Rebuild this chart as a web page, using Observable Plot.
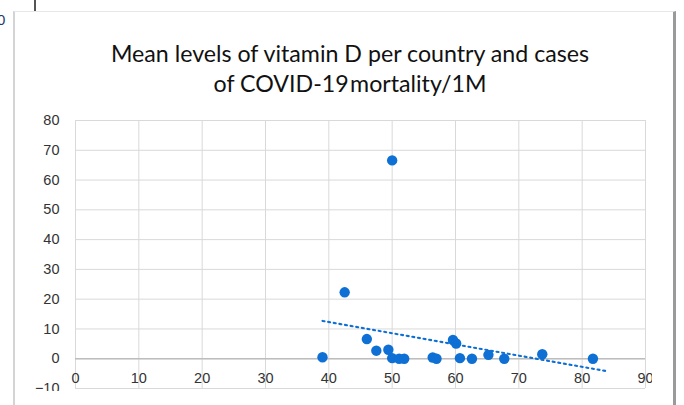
<!DOCTYPE html>
<html>
<head>
<meta charset="utf-8">
<script src="https://cdn.jsdelivr.net/npm/d3@7"></script>
<script src="https://cdn.jsdelivr.net/npm/@observablehq/plot@0.6"></script>
<style>
  html, body { margin: 0; padding: 0; background: #fff; }
  #wrap { position: relative; width: 684px; height: 405px; overflow: hidden; background: #fff; }
  #clip { position: absolute; left: 0; top: 0; width: 652px; height: 391px; overflow: hidden; }
  #clip svg { max-width: none !important; }
  #frame { position: absolute; left: 13px; top: 11px; width: 663px; height: 410px;
           border-left: 2px solid #d4d4d4; border-top: 1px solid #e8e8e8; border-right: 3px solid #9a9a9a;
           box-sizing: border-box; pointer-events: none; }
  #title { position: absolute; left: 0; width: 700px; top: 38px; text-align: center;
           font-family: Lato, "Liberation Sans", sans-serif; font-size: 23.2px; line-height: 30px; color: #111; }
  #frag0 { position: absolute; left: -3px; top: 11px; font-family: "Liberation Sans", sans-serif; font-size: 15px; color: #1f3b6f; }
  #vline { position: absolute; left: 34px; top: 0; width: 2px; height: 11px; background: #555; }
</style>
</head>
<body>
<div id="wrap">
  <div id="clip"></div>
  <div id="title">Mean levels of vitamin D per country and cases<br>of COVID-19&#8202;mortality/1M</div>
  <div id="frame"></div>
  <div id="frag0">0</div>
  <div id="vline"></div>
</div>
<script>
// Mean vitamin D level per country (x) and COVID-19 mortality per 1M (y)
const vitaminD = [39, 42.5, 46, 47.5, 49.4, 50, 50, 51.1, 51.9, 56.4, 57, 59.6, 60.1, 60.7, 62.6, 65.2, 67.7, 73.7, 81.7];
const mortality = [0.5, 22.3, 6.6, 2.7, 3.0, 0.2, 66.6, 0, 0, 0.4, 0, 6.3, 5.1, 0.2, 0, 1.3, 0, 1.5, 0];
const xTicks = [0, 10, 20, 30, 40, 50, 60, 70, 80, 90];
const yTicks = [-10, 0, 10, 20, 30, 40, 50, 60, 70, 80];
const trendForward = 2; // Excel trendline forecast forward

const data = vitaminD.map((x, i) => ({x, y: mortality[i]}));

// least squares linear trendline
const mx = d3.mean(vitaminD), my = d3.mean(mortality);
const sxy = d3.sum(data, d => (d.x - mx) * (d.y - my));
const sxx = d3.sum(data, d => (d.x - mx) ** 2);
const slope = sxy / sxx, intercept = my - slope * mx;
const tx = [d3.min(vitaminD), d3.max(vitaminD) + trendForward];
const trend = tx.map(x => ({x, y: intercept + slope * x}));

const blue = "#0e6fd4";
const labelColor = "#333";

const chart = Plot.plot({
  width: 684,
  height: 405,
  marginLeft: 75,
  marginRight: 39,
  marginTop: 120,
  marginBottom: 17,
  style: {fontFamily: "'Liberation Sans', sans-serif", fontSize: "14.5px", background: "transparent", overflow: "visible", maxWidth: "none"},
  x: {domain: [0, 90], axis: null},
  y: {domain: [-10, 80], axis: null},
  marks: [
    Plot.gridX(xTicks, {stroke: "#d9d9d9", strokeOpacity: 1, strokeWidth: 1}),
    Plot.gridY(yTicks, {stroke: "#d9d9d9", strokeOpacity: 1, strokeWidth: 1}),
    Plot.ruleY([0], {stroke: "#bdbdbd", strokeWidth: 1.6}),
    Plot.axisY(yTicks, {tickSize: 0, tickPadding: 16, fill: labelColor, fontSize: 14.5, label: null}),
    Plot.text(xTicks, {x: d => d, y: 0, dy: 20, text: d => String(d), fill: labelColor, fontSize: 14.5}),
    Plot.dot(data, {x: "x", y: "y", r: 5.2, fill: blue, stroke: null}),
    Plot.line(trend, {x: "x", y: "y", stroke: blue, strokeWidth: 2.1, strokeDasharray: "2,3.7"})
  ]
});
document.getElementById("clip").appendChild(chart);
</script>
</body>
</html>
